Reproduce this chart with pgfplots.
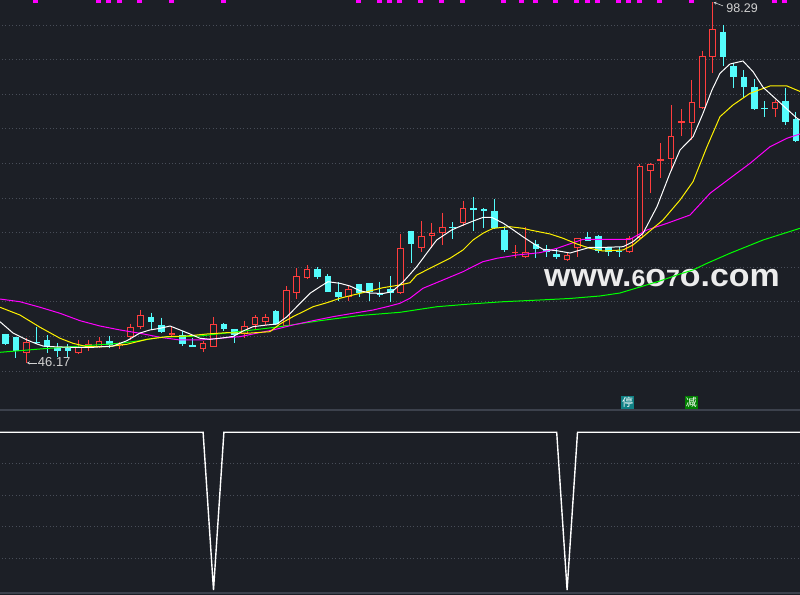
\documentclass[border=0pt]{standalone}
\usepackage{fontspec}
\setmainfont{Liberation Sans}
\newfontfamily\cjk{Noto Sans CJK SC}
\usepackage{pgfplots}
\usepackage{pgfplotstable}
\pgfplotsset{compat=1.18}
\usetikzlibrary{arrows.meta}

\definecolor{bg}{RGB}{28,31,38}
\definecolor{candlered}{RGB}{255,61,61}
\definecolor{candlecyan}{RGB}{84,252,252}
\definecolor{gridc}{RGB}{72,77,88}
\definecolor{sepc}{RGB}{60,65,76}
\definecolor{mag}{RGB}{255,0,255}
\definecolor{lab}{RGB}{210,210,210}
\definecolor{wm}{RGB}{236,236,236}
\definecolor{tealb}{RGB}{16,128,132}
\definecolor{greenb}{RGB}{0,128,0}

% up (red, hollow) candles: index open high low close
\pgfplotstableread{
i O H L C
2 47.60 49.77 46.17 49.19
7 47.67 49.55 47.46 48.47
8 48.32 49.55 47.89 48.90
9 48.47 49.91 48.32 49.34
11 48.61 49.19 48.18 48.97
12 49.96 51.86 49.48 51.36
13 51.36 53.82 51.14 53.09
16 50.20 51.36 49.91 50.49
19 48.25 49.34 47.79 49.00
20 48.51 52.76 48.45 51.75
23 50.35 52.27 49.73 51.57
24 51.65 53.09 50.93 52.76
25 52.04 53.24 51.65 52.76
27 51.50 57.28 51.36 56.71
28 56.23 59.84 55.36 58.73
29 58.40 60.32 58.25 59.70
33 55.65 57.28 55.16 56.81
38 56.23 64.75 56.10 62.73
40 62.73 66.68 62.24 64.51
41 64.55 66.34 62.73 64.99
42 64.90 67.88 63.21 65.85
44 66.43 69.61 65.95 68.51
49 62.05 63.14 61.29 62.20
50 61.43 65.74 61.29 62.24
54 61.04 62.24 60.94 61.76
55 62.82 64.20 61.43 64.18
60 62.24 64.51 62.10 64.18
61 64.18 74.91 64.10 74.62
62 73.95 75.00 70.68 74.91
63 75.39 77.90 72.85 75.59
64 75.59 83.44 73.95 78.96
65 80.88 82.86 78.96 81.13
66 80.80 87.05 78.38 83.83
67 82.96 91.29 82.90 90.52
68 90.42 98.29 88.02 94.42
74 82.82 84.16 81.75 83.83
}\up

% down (cyan, filled) candles
\pgfplotstableread{
i O H L C
0 50.35 50.40 48.80 48.90
1 49.91 49.95 46.88 47.89
3 49.19 51.36 48.83 49.05
4 49.48 50.20 47.60 48.47
5 48.32 49.05 47.02 47.89
6 48.32 48.90 47.02 47.89
10 49.38 50.06 48.32 48.76
14 52.85 53.43 50.93 52.12
15 51.65 52.70 50.56 50.68
17 50.20 50.78 48.68 48.90
18 48.76 49.77 48.40 48.51
21 51.79 51.94 50.78 51.07
22 51.07 51.10 49.00 50.20
26 53.67 53.80 51.60 51.79
30 59.74 59.99 58.25 58.63
31 58.73 59.02 56.37 56.46
32 56.37 57.82 55.16 55.74
34 57.57 57.60 55.65 56.23
35 57.67 57.70 55.16 56.37
36 56.31 57.90 55.74 55.98
37 56.81 58.73 55.01 56.31
39 65.23 65.30 60.56 63.31
43 65.81 66.49 64.08 65.72
45 68.51 70.10 65.27 68.27
46 68.37 68.55 65.62 68.17
47 68.12 69.86 65.52 65.62
48 65.38 65.95 62.24 62.49
51 63.35 63.93 61.29 62.63
52 62.59 63.21 61.43 62.24
53 61.86 62.59 61.14 61.43
56 64.32 65.13 63.80 63.83
57 64.55 64.60 62.01 62.34
58 62.88 62.90 61.62 62.15
59 62.38 62.96 61.43 62.15
69 94.03 95.00 89.08 90.42
70 89.08 89.55 85.94 87.53
71 87.44 88.50 84.49 86.08
72 86.00 87.15 82.72 82.86
73 83.01 84.02 81.75 82.90
75 84.02 85.85 80.55 81.03
76 81.42 82.47 78.14 78.28
}\down

\pgfplotsset{
  panel/.style={
    scale only axis, anchor=south west, width=800pt,
    xmin=-0.529, xmax=76.394,
    axis background/.style={fill=bg},
    axis line style={draw=none},
    xtick=\empty, ytick=\empty,
  },
  gridline/.style={gridc, line width=0.9pt, dash pattern=on 0.9pt off 2.5pt, forget plot},
  candle/.style={draw=none, no markers, forget plot,
    error bars/y dir=minus, error bars/y explicit, error bars/error mark=none},
}

\begin{document}
\begin{tikzpicture}
% ---------------- upper panel: price ----------------
\begin{axis}[panel, name=upper, at={(0pt,185pt)}, height=410pt,
  ymin=39.364, ymax=98.613]

% dotted horizontal grid at 45, 50, ..., 95
\addplot[gridline] coordinates {(-1,45) (78,45)};
\addplot[gridline] coordinates {(-1,50) (78,50)};
\addplot[gridline] coordinates {(-1,55) (78,55)};
\addplot[gridline] coordinates {(-1,60) (78,60)};
\addplot[gridline] coordinates {(-1,65) (78,65)};
\addplot[gridline] coordinates {(-1,70) (78,70)};
\addplot[gridline] coordinates {(-1,75) (78,75)};
\addplot[gridline] coordinates {(-1,80) (78,80)};
\addplot[gridline] coordinates {(-1,85) (78,85)};
\addplot[gridline] coordinates {(-1,90) (78,90)};
\addplot[gridline] coordinates {(-1,95) (78,95)};

% red wicks
\addplot[candle, error bars/error bar style={draw=candlered, line width=1pt}]
  table[x=i, y=H, y error minus expr={\thisrow{H}-\thisrow{L}}] {\up};
% red bodies (outline)
\addplot[candle, error bars/error bar style={draw=candlered, line width=6.7pt}]
  table[x=i, y=C, y error minus expr={\thisrow{C}-\thisrow{O}}] {\up};
% red bodies (hollow inside)
\addplot[candle, error bars/error bar style={draw=bg, line width=4.7pt}]
  table[x=i, y expr={\thisrow{C}-0.1445}, y error minus expr={max(\thisrow{C}-\thisrow{O}-0.289,0)}] {\up};
% cyan wicks
\addplot[candle, error bars/error bar style={draw=candlecyan, line width=1pt}]
  table[x=i, y=H, y error minus expr={\thisrow{H}-\thisrow{L}}] {\down};
% cyan bodies
\addplot[candle, error bars/error bar style={draw=candlecyan, line width=6.7pt}]
  table[x=i, y=O, y error minus expr={max(\thisrow{O}-\thisrow{C},0.12)}] {\down};

% watermark (under the moving averages)
\node[wm, anchor=base, inner sep=0pt, xscale=1.06, font=\bfseries\fontsize{32}{32}\selectfont]
  at (axis cs:63.13,57.18) {www.{\fontsize{23.5}{24}\selectfont 6}o{\fontsize{23.5}{24}\selectfont 7}o.com};

% MA60 (green)
\addplot[color={rgb,255:red,0;green,255;blue,0}, line width=1pt] coordinates {
(-0.53,47.70) (3.32,48.18) (7.16,48.61) (11.01,49.00) (12.93,49.38) (14.86,49.87)
(18.70,50.06) (22.55,50.71) (26.39,51.40) (30.24,52.27) (34.09,53.02) (37.93,53.48)
(41.49,54.29) (44.66,54.68) (47.84,55.01) (51.39,55.26) (54.28,55.48) (57.16,55.84)
(59.08,56.27) (61.01,57.14) (62.93,58.01) (64.86,59.02) (66.11,59.60) (67.45,60.56)
(69.66,62.01) (72.84,63.93) (76.39,65.62)};
% MA20 (magenta)
\addplot[color=mag, line width=1pt] coordinates {
(-0.53,55.40) (1.39,55.01) (3.32,54.21) (5.24,53.34) (7.16,52.27) (9.09,51.50)
(11.01,50.93) (12.93,50.45) (14.86,49.87) (16.78,49.48) (18.70,49.48) (20.63,49.73)
(22.55,49.96) (23.80,50.35) (25.72,50.93) (27.64,51.65) (29.57,52.27) (31.49,52.85)
(33.41,53.34) (35.34,53.81) (36.68,54.29) (37.93,54.78) (38.89,55.51) (40.14,56.95)
(42.07,58.15) (43.99,59.35) (45.91,60.80) (47.26,61.29) (49.18,61.76) (51.39,62.10)
(53.03,62.73) (55.53,64.03) (60.05,64.03) (61.68,65.38) (63.61,66.34) (65.82,67.54)
(67.74,70.68) (69.66,72.85) (71.59,75.01) (73.51,77.41) (75.14,78.63) (76.39,79.25)};
% MA10 (yellow)
\addplot[color=yellow, line width=1pt] coordinates {
(-0.53,54.21) (1.39,53.09) (3.32,51.32) (5.24,49.73) (6.49,49.00) (7.84,48.51)
(9.76,48.51) (11.68,48.86) (13.61,49.58) (15.53,49.96) (17.45,50.06) (19.38,50.35)
(21.30,50.54) (23.22,50.45) (25.43,50.68) (26.39,51.79) (27.64,52.85) (28.61,53.57)
(29.57,54.29) (30.91,54.87) (32.16,55.51) (33.41,55.98) (34.76,56.46) (36.30,57.04)
(37.93,57.43) (38.89,57.76) (39.54,58.87) (41.11,60.07) (42.74,61.29) (43.99,62.49)
(44.95,63.93) (45.91,64.90) (46.88,65.62) (48.51,65.85) (49.76,65.62) (50.43,65.38)
(52.36,64.80) (53.61,64.18) (54.95,63.35) (56.20,62.73) (57.45,62.34) (59.38,62.49)
(60.34,63.21) (61.30,64.41) (63.22,66.82) (64.86,69.71) (66.11,72.36) (67.45,77.41)
(68.70,81.75) (69.95,83.44) (71.59,85.13) (73.51,86.19) (75.14,86.19) (76.39,85.40)};
% MA5 (white)
\addplot[color=white, line width=1pt] coordinates {
(-0.53,52.12) (0.72,50.49) (2.07,49.48) (3.03,48.90) (3.61,48.61) (4.57,48.51)
(6.49,48.42) (8.41,48.42) (10.34,48.61) (11.68,49.38) (12.93,50.49) (13.89,50.93)
(14.86,51.17) (15.82,51.50) (16.78,50.93) (17.74,50.35) (18.70,49.73) (19.66,49.58)
(20.63,49.73) (21.88,49.99) (22.84,50.78) (23.80,51.40) (25.14,51.65) (26.11,51.79)
(27.07,52.85) (28.32,54.78) (29.28,56.23) (30.24,57.18) (31.01,57.90) (32.16,57.67)
(33.13,57.28) (34.09,56.60) (35.05,56.27) (36.30,56.20) (37.16,56.46) (38.25,57.90)
(39.54,60.07) (40.50,62.01) (41.46,63.93) (41.94,64.41) (42.90,65.38) (44.02,66.10)
(44.98,66.68) (45.94,67.21) (46.75,67.21) (47.87,66.34) (48.83,65.38) (49.79,64.36)
(50.72,63.45) (51.68,62.59) (53.03,62.38) (54.28,62.05) (56.20,62.88) (57.84,62.88)
(59.38,62.96) (60.34,63.69) (61.30,64.90) (62.64,68.74) (63.89,73.57) (64.86,76.94)
(66.11,78.86) (67.07,82.24) (67.93,85.61) (68.70,88.02) (69.66,89.36) (70.91,89.80)
(71.88,88.25) (72.84,86.00) (74.18,84.16) (76.11,81.52) (76.39,81.27)};

% signal marks at top
\addplot[only marks, mark=square*, mark size=2pt, color=mag,
  mark options={draw=none, fill=mag, yscale=0.6}] coordinates {
(2.9,98.44) (8.9,98.44) (9.9,98.44) (10.9,98.44) (12.9,98.44) (15.9,98.44) (20.9,98.44)
(33.9,98.44) (35.9,98.44) (36.9,98.44) (37.9,98.44) (39.9,98.44) (41.9,98.44) (43.9,98.44)
(47.9,98.44) (49.6,98.44) (50.9,98.44) (52.9,98.44) (54.9,98.44) (55.9,98.44) (56.9,98.44)
(58.9,98.44) (59.9,98.44) (60.9,98.44) (62.9,98.44) (65.9,98.44) (73.9,98.44) (74.9,98.44)};

% high / low labels
\draw[lab, line width=0.6pt, -{Stealth[length=3pt,width=3pt]}] (axis cs:69.0,97.75) -- (axis cs:68.08,98.30);
\node[lab, anchor=west, inner sep=0pt, font=\fontsize{12.5}{13}\selectfont] at (axis cs:69.3,97.45) {98.29};
\draw[lab, line width=0.6pt, -{Stealth[length=3pt,width=3pt]}] (axis cs:3.05,46.17) -- (axis cs:2.05,46.17);
\node[lab, anchor=west, inner sep=0pt, font=\fontsize{13}{14}\selectfont] at (axis cs:3.1,46.30) {46.17};

% badges
\node[fill=tealb, text=white, minimum size=13pt, inner sep=0pt, font=\cjk\fontsize{11}{11}\selectfont] at (axis cs:59.81,40.45) {停};
\node[fill=greenb, text=white, minimum size=13pt, inner sep=0pt, font=\cjk\fontsize{11}{11}\selectfont] at (axis cs:65.96,40.45) {减};
\end{axis}

% ---------------- lower panel: indicator ----------------
\begin{axis}[panel, name=lower, at={(0pt,0pt)}, height=185pt,
  ymin=-0.0317, ymax=1.1414]
\addplot[gridline] coordinates {(-1,0.2) (78,0.2)};
\addplot[gridline] coordinates {(-1,0.4) (78,0.4)};
\addplot[gridline] coordinates {(-1,0.6) (78,0.6)};
\addplot[gridline] coordinates {(-1,0.8) (78,0.8)};
\addplot[white, line width=1.4pt] coordinates {
(-1,1) (19,1) (20,0) (21,1) (53,1) (54,0) (55,1) (78,1)};
\draw[sepc, line width=2pt] (rel axis cs:0,1) -- (rel axis cs:1,1);
\draw[sepc, line width=2pt] (rel axis cs:0,0.012) -- (rel axis cs:1,0.012);
\end{axis}

\pgfresetboundingbox
\path[use as bounding box] (lower.south west) rectangle (upper.north east);
\end{tikzpicture}
\end{document}
